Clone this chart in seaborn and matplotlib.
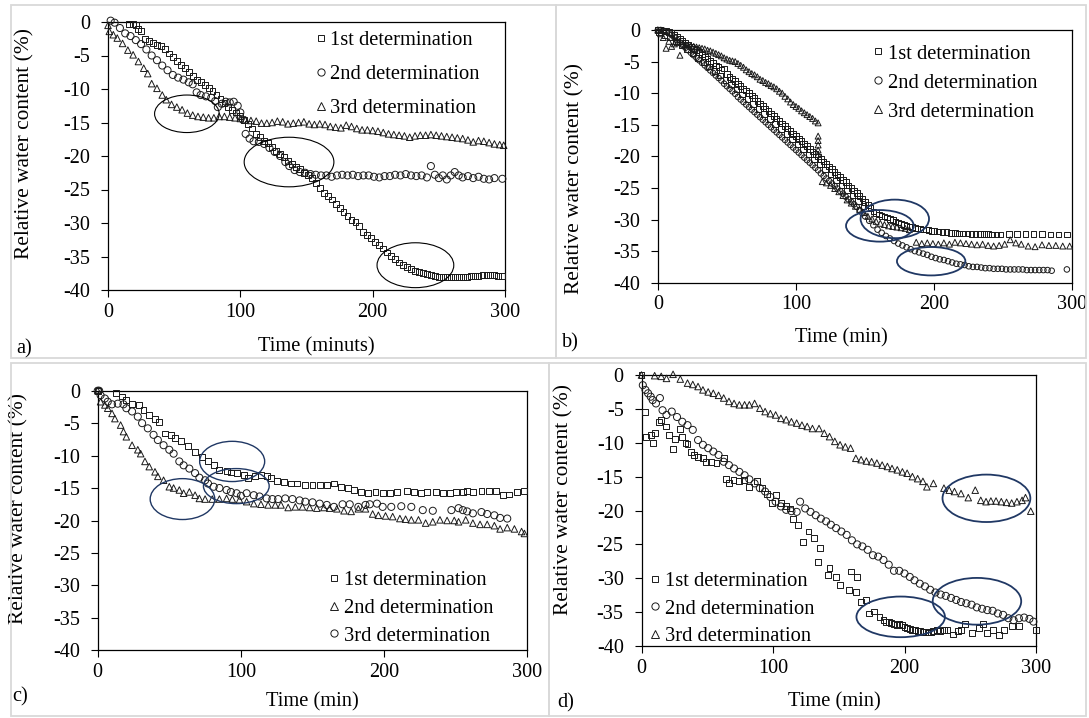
import numpy as np
import pandas as pd
import seaborn as sns
import matplotlib
matplotlib.use("Agg")
import matplotlib.pyplot as plt
from matplotlib.patches import Ellipse, Rectangle
from matplotlib.lines import Line2D

# ---------------------------------------------------------------- data
# (time in min, relative water content in %)
a_first = [(16, -0.3), (19, -0.3), (21, -0.5), (23, -1.1), (25, -1.4), (28, -2.6), (31, -2.9),
           (34, -3.2), (37, -3.4), (40, -3.6), (43, -4.0), (46, -4.7), (49, -5.2), (52, -5.8),
           (55, -6.4), (58, -6.9), (61, -7.4), (64, -8.0), (67, -8.6), (70, -9.0), (73, -9.4),
           (76, -9.8), (79, -10.3), (82, -10.9), (85, -11.5), (88, -12.1), (91, -12.7), (94, -13.1),
           (97, -13.5), (100, -14.0), (103, -14.6), (106, -15.2), (109, -15.9), (112, -16.7),
           (115, -17.2), (118, -17.7), (121, -18.1), (124, -18.6), (127, -19.2), (130, -19.7),
           (133, -20.2), (136, -20.7), (139, -21.2), (142, -21.6), (145, -22.0), (148, -22.5),
           (151, -22.9), (154, -23.3), (157, -24.0), (160, -24.8), (163, -25.5), (166, -26.0),
           (169, -26.5), (172, -27.2), (175, -27.8), (178, -28.4), (181, -29.0), (184, -29.5),
           (187, -29.9), (190, -30.5), (193, -31.4), (196, -31.8), (199, -32.2), (202, -32.9),
           (205, -33.3), (208, -33.8), (211, -34.4), (214, -34.9), (217, -35.4), (220, -35.9),
           (223, -36.3), (226, -36.6), (229, -36.9), (232, -37.1), (235, -37.3), (238, -37.5),
           (241, -37.6), (244, -37.7), (247, -37.9), (250, -38.0), (253, -38.0), (256, -38.0),
           (259, -38.0), (262, -38.0), (265, -38.1), (268, -38.1), (271, -38.0), (274, -37.9),
           (277, -37.9), (280, -37.9), (283, -37.8), (286, -37.8), (289, -37.8), (292, -37.8),
           (295, -37.9), (298, -37.9)]
a_second = [(2, 0.2), (5, -0.1), (9, -0.9), (13, -1.7), (17, -2.1), (21, -2.7), (25, -3.3),
            (29, -4.1), (33, -5.0), (37, -5.7), (41, -6.5), (45, -7.2), (49, -7.9), (53, -8.3),
            (57, -8.6), (61, -9.0), (64, -9.3), (67, -10.5), (70, -10.9), (74, -11.1), (78, -11.3),
            (81, -11.8), (83, -12.7), (86, -12.2), (89, -11.9), (92, -12.0), (95, -11.9),
            (98, -12.5), (100, -13.5), (102, -14.6), (104, -16.7), (107, -17.4), (110, -17.8),
            (114, -17.9), (118, -18.2), (122, -18.8), (126, -19.4), (130, -20.0), (134, -20.9),
            (137, -21.5), (141, -22.1), (145, -22.4), (149, -22.5), (153, -22.7), (157, -22.8),
            (161, -22.9), (165, -22.9), (169, -23.1), (173, -22.9), (177, -22.8), (181, -22.9),
            (185, -22.8), (189, -23.0), (193, -22.9), (197, -22.9), (201, -23.1), (205, -23.2),
            (209, -23.0), (213, -23.0), (217, -22.8), (221, -22.9), (225, -22.7), (229, -22.9),
            (233, -23.0), (237, -22.9), (241, -23.2), (244, -21.5), (247, -22.8), (250, -23.3),
            (253, -22.9), (256, -23.5), (259, -22.9), (262, -22.4), (265, -22.9), (268, -23.2),
            (272, -23.0), (276, -23.3), (280, -23.1), (284, -23.4), (288, -23.5), (292, -23.3),
            (298, -23.4)]
a_third = [(0, -0.5), (1, -1.4), (4, -1.9), (7, -2.4), (11, -3.2), (15, -4.2), (19, -4.9),
           (23, -5.9), (27, -6.9), (30, -7.7), (33, -9.2), (37, -9.9), (41, -10.9), (44, -11.6),
           (48, -12.3), (52, -12.7), (56, -13.1), (60, -13.6), (64, -13.9), (68, -14.1),
           (72, -14.2), (76, -14.3), (80, -14.3), (84, -14.1), (88, -14.1), (92, -14.2),
           (96, -14.3), (100, -14.4), (104, -14.6), (108, -14.7), (112, -14.8), (116, -15.1),
           (120, -15.1), (124, -15.0), (128, -14.8), (132, -14.9), (136, -15.2), (140, -15.1),
           (144, -15.0), (148, -14.9), (152, -15.2), (156, -15.3), (160, -15.2), (164, -15.3),
           (168, -15.6), (172, -15.7), (176, -15.8), (180, -15.4), (184, -15.6), (188, -15.9),
           (192, -16.1), (196, -16.1), (200, -16.2), (204, -16.3), (208, -16.5), (212, -16.7),
           (216, -16.8), (220, -16.9), (224, -17.0), (228, -17.2), (232, -17.0), (236, -16.9),
           (240, -16.9), (244, -16.8), (248, -16.9), (252, -17.0), (256, -17.1), (260, -17.2),
           (264, -17.3), (268, -17.4), (272, -17.6), (276, -17.9), (280, -17.7), (284, -17.8),
           (288, -18.0), (292, -18.2), (296, -18.3), (299, -18.4)]

# panel b: readings every 2 min over the steep part, then the plateau
b_first_grid = [0.0, 0.0, -0.1, -0.2, -0.3, -0.5, -0.8, -1.1, -1.4, -1.7,
                -2.0, -2.3, -2.6, -3.0, -3.2, -3.5, -3.9, -4.2, -4.5, -4.9,
                -5.2, -5.6, -5.9, -6.3, -6.1, -7.0, -7.4, -7.7, -8.1, -8.5,
                -8.9, -9.3, -9.6, -10.0, -10.4, -10.8, -11.2, -11.6, -12.0, -12.4,
                -12.8, -13.2, -13.6, -14.0, -14.4, -14.8, -15.2, -15.6, -16.0, -16.4,
                -16.8, -17.2, -17.6, -18.0, -18.4, -18.8, -19.2, -19.6, -20.0, -20.4,
                -20.8, -21.2, -21.6, -22.0, -22.5, -22.9, -23.3, -23.7, -24.1, -24.6,
                -25.0, -25.4, -25.8, -26.3, -26.7, -27.2, -27.7, -28.2, -28.7, -29.0,
                -29.2, -29.4, -29.5, -29.7, -29.9, -30.1, -30.3, -30.5, -30.7, -30.9,
                -31.0, -31.1, -31.2, -31.3, -31.4, -31.5, -31.6, -31.6, -31.7, -31.8,
                -31.8]
# readings in the middle of the dense band (every 4 min, from t = 1)
b_first_inner = [-0.3, -0.8, -1.2, -1.8, -2.4, -3.0, -3.7, -4.4, -5.1, -5.8,
                 -6.5, -7.2, -7.9, -8.6, -9.4, -10.2, -10.9, -11.7, -12.5, -13.3,
                 -14.1, -14.9, -15.7, -16.5, -17.3, -18.1, -18.9, -19.7, -20.5, -21.3,
                 -22.1, -22.9, -23.8, -24.6, -25.4, -26.2, -27.1, -27.9]
b_first_tail = [(203, -31.9), (206, -32.0), (209, -32.0), (212, -32.1), (215, -32.1),
                (218, -32.2), (221, -32.2), (224, -32.2), (227, -32.3), (230, -32.3),
                (233, -32.3), (236, -32.3), (239, -32.3), (242, -32.4), (245, -32.4),
                (248, -32.4), (254, -32.3), (260, -32.3), (266, -32.3), (272, -32.3),
                (278, -32.3), (284, -32.4), (290, -32.4), (296, -32.4)]
b_second_grid = [0.0, 0.0, -0.1, -0.3, -0.5, -0.8, -1.2, -1.6, -2.0, -2.4,
                 -2.8, -3.2, -3.6, -4.0, -4.4, -4.8, -5.2, -5.6, -6.0, -6.4,
                 -6.8, -7.2, -7.6, -8.0, -8.5, -8.9, -9.3, -9.7, -10.1, -10.6,
                 -11.0, -11.4, -11.8, -12.2, -12.6, -13.0, -13.4, -13.8, -14.2, -14.6,
                 -15.0, -15.4, -15.8, -16.2, -16.6, -17.0, -17.4, -17.8, -18.2, -18.6,
                 -19.0, -19.4, -19.8, -20.2, -20.6, -21.0, -21.4, -21.8, -22.2, -22.7,
                 -23.1, -23.5, -23.9, -24.3, -24.7, -25.1, -25.5, -25.9, -26.4, -26.8,
                 -27.2, -27.6, -28.0, -28.5, -29.0]
b_second_tail = [-29.5, -30.2, -30.9, -31.6, -32.1, -32.6, -33.0, -33.4, -33.8, -34.1,
                 -34.4, -34.7, -35.0, -35.2, -35.4, -35.6, -35.9, -36.1, -36.3, -36.4,
                 -36.6, -36.8, -37.0, -37.1, -37.2, -37.4, -37.5, -37.5, -37.6, -37.7,
                 -37.7, -37.8, -37.8, -37.8, -37.9, -37.9, -37.9, -37.9, -37.9, -38.0,
                 -38.0, -38.0, -38.0, -38.0, -38.0, -38.1]
b_second_last = [(296, -37.9)]
b_third_grid = [0.0, -0.6, -1.2, -2.9, -1.8, -2.6, -2.2, -2.0, -4.0, -2.1,
                -2.3, -2.4, -2.5, -2.6, -2.7, -2.8, -2.9, -3.0, -3.2, -3.3,
                -3.5, -3.7, -3.9, -4.1, -4.4, -4.6, -4.8, -4.9, -5.0, -5.3,
                -5.6, -5.9, -6.3, -6.6, -6.9, -7.1, -7.4, -7.8, -8.0, -8.3,
                -8.5, -8.8, -9.0, -9.3, -9.7, -10.0, -10.5, -10.9, -11.4, -11.8,
                -12.1, -12.4, -12.8, -13.1, -13.4, -13.7, -14.0, -14.4, -14.7]
b_third_tail = [(116, -16.8), (116, -17.5), (116, -18.2), (116, -19.0), (116, -19.7),
                (119, -24.0), (122, -24.2), (125, -24.6), (128, -25.1), (131, -25.6),
                (134, -26.2), (137, -26.9), (140, -27.4), (143, -27.9), (146, -28.4),
                (149, -28.9), (152, -29.5), (155, -29.9), (158, -30.3), (161, -30.6),
                (164, -30.8), (167, -31.0), (170, -31.1), (173, -31.2), (176, -31.3),
                (179, -31.4), (182, -31.6), (187, -33.6), (191, -33.8), (195, -33.7),
                (199, -33.8), (203, -33.9), (207, -33.7), (211, -33.9), (215, -33.6),
                (219, -33.7), (223, -33.8), (227, -33.9), (231, -34.0), (235, -33.9),
                (239, -34.1), (243, -34.2), (247, -34.1), (251, -33.9), (255, -33.2),
                (259, -33.7), (263, -33.9), (268, -34.2), (273, -34.3), (278, -34.0),
                (283, -34.1), (288, -34.1), (293, -34.2), (298, -34.2)]

c_first = [(0, 0.0), (13, -0.3), (17, -0.9), (20, -1.4), (24, -2.0), (29, -2.2), (32, -3.0),
           (36, -3.7), (40, -4.3), (43, -4.8), (47, -6.6), (51, -6.8), (54, -7.3), (58, -7.8),
           (63, -8.5), (68, -9.4), (73, -10.2), (77, -10.9), (81, -11.5), (85, -12.2),
           (90, -12.4), (93, -12.6), (97, -12.7), (102, -13.0), (105, -13.5), (110, -13.2),
           (114, -13.0), (118, -13.2), (121, -13.4), (125, -13.9), (130, -14.0), (135, -14.3),
           (139, -14.3), (145, -14.5), (150, -14.5), (155, -14.5), (160, -14.5), (165, -14.3),
           (170, -14.9), (175, -15.0), (179, -15.3), (184, -15.6), (189, -15.7), (194, -15.6),
           (199, -15.7), (204, -15.7), (209, -15.6), (216, -15.5), (221, -15.6), (226, -15.7),
           (230, -15.6), (236, -15.6), (241, -15.7), (246, -15.8), (250, -15.6), (255, -15.6),
           (258, -15.5), (262, -15.6), (268, -15.5), (273, -15.5), (278, -15.5), (283, -16.1),
           (287, -16.0), (293, -15.6), (298, -15.5)]
c_second = [(0, 0.0), (2, -1.7), (5, -2.2), (7, -2.7), (10, -3.5), (12, -4.3), (16, -5.3),
            (18, -6.3), (20, -7.1), (24, -8.4), (28, -9.1), (30, -9.7), (33, -10.9), (36, -11.7),
            (40, -12.5), (42, -13.2), (46, -13.8), (50, -14.8), (53, -15.0), (57, -15.3),
            (60, -15.8), (64, -15.6), (68, -16.1), (71, -16.6), (75, -16.7), (80, -16.7),
            (85, -16.7), (90, -16.6), (94, -16.7), (99, -16.8), (104, -17.1), (109, -17.4),
            (114, -17.5), (119, -17.6), (124, -17.6), (128, -17.6), (133, -18.0), (138, -17.9),
            (143, -17.9), (148, -18.0), (153, -18.1), (158, -18.0), (162, -18.1), (167, -18.2),
            (172, -18.5), (177, -18.6), (182, -18.2), (187, -18.2), (192, -19.0), (196, -19.2),
            (201, -19.3), (206, -19.4), (211, -19.7), (215, -19.8), (219, -19.9), (224, -19.9),
            (229, -20.4), (234, -20.2), (239, -19.9), (244, -20.0), (249, -20.0), (252, -20.2),
            (257, -19.9), (262, -20.4), (267, -20.6), (272, -20.6), (277, -20.8), (281, -21.3),
            (286, -21.1), (291, -21.3), (296, -21.7), (298, -22.0)]
c_third = [(0, 0.0), (1, 0.0), (2, -0.7), (5, -1.2), (7, -1.7), (10, -2.1), (14, -2.0),
           (18, -2.1), (20, -2.7), (24, -3.2), (28, -4.0), (31, -5.0), (35, -5.8), (39, -6.8),
           (42, -7.6), (46, -8.4), (50, -9.1), (53, -9.7), (57, -10.9), (60, -11.5), (64, -12.0),
           (68, -12.7), (71, -13.4), (75, -13.8), (77, -14.3), (81, -14.8), (85, -15.0),
           (90, -15.3), (93, -15.6), (97, -15.8), (100, -16.2), (104, -15.8), (109, -16.1),
           (113, -16.3), (118, -16.6), (122, -16.7), (126, -16.7), (131, -16.6), (136, -16.7),
           (141, -16.9), (145, -17.1), (150, -17.2), (155, -17.4), (160, -17.6), (165, -17.9),
           (171, -17.5), (176, -17.5), (182, -17.9), (187, -17.6), (190, -17.5), (195, -17.4),
           (199, -17.9), (205, -17.9), (212, -17.8), (219, -17.9), (227, -18.4), (234, -18.5),
           (247, -18.4), (252, -18.1), (255, -18.4), (258, -18.6), (262, -18.9), (268, -18.7),
           (272, -19.0), (277, -19.2), (281, -19.6), (286, -19.7)]

d_first = [(0, 0.0), (2.6, -5.4), (3.7, -9.1), (7, -8.8), (9, -10.1), (10.5, -8.6), (13, -6.9),
           (15, -6.6), (18.5, -7.6), (21, -8.9), (23.7, -10.9), (25.6, -9.4), (29.5, -8.0),
           (31, -9.1), (33.5, -10.1), (35, -10.2), (37.5, -11.3), (40, -11.8), (42.7, -12.1),
           (46.7, -12.2), (49, -12.8), (53, -12.8), (57, -13.0), (62.5, -12.3), (64, -15.3),
           (66.5, -16.0), (70, -15.5), (74, -15.7), (78, -15.5), (82, -16.5), (87.6, -15.7),
           (91.5, -16.7), (95.5, -17.5), (99.5, -18.9), (102, -17.7), (106, -18.9), (110, -19.4),
           (112.6, -19.7), (115.3, -21.2), (119, -22.1), (123, -24.6), (127, -23.1), (131, -24.0),
           (134, -27.6), (136, -25.6), (141.7, -29.5), (143, -28.5), (148, -29.8), (151, -31.0),
           (157.5, -31.7), (159, -29.0), (162.8, -32.0), (163.6, -29.8), (167, -33.5),
           (170.7, -33.2), (173, -35.2), (177, -34.9), (181, -35.7), (184, -36.2), (186, -36.5),
           (188, -36.4), (190, -36.6), (192, -36.7), (194, -36.9), (196, -36.8), (198, -36.9),
           (200, -37.2), (202, -37.4), (204, -37.5), (206, -37.6), (208, -37.7), (210, -37.8),
           (212, -37.8), (214, -37.9), (216, -37.9), (218, -38.0), (220, -37.9), (222, -37.8),
           (225, -37.7), (227, -37.8), (230, -37.6), (232.7, -37.6), (236.7, -38.3),
           (240.6, -37.8), (243, -37.6), (246, -36.7), (251, -38.1), (256.5, -37.4), (260, -36.8),
           (263, -38.1), (267, -37.6), (272, -38.4), (276, -37.6), (281.5, -37.1), (287, -37.0),
           (300, -37.6)]
d_second = [(1, -1.5), (3, -2.2), (5, -2.7), (7, -3.2), (8.5, -3.7), (11, -4.2), (14, -3.4),
            (16, -5.2), (19, -5.9), (23, -5.4), (27, -6.2), (31, -6.9), (35, -7.4), (39, -8.1),
            (43, -9.6), (46.7, -10.3), (50.7, -10.8), (54.6, -11.3), (58.6, -11.8), (62.5, -12.8),
            (66.5, -13.3), (70.4, -13.8), (74.4, -14.3), (78.4, -14.8), (82, -15.4), (86, -16.0),
            (90, -16.7), (94, -17.2), (98, -18.0), (102, -18.7), (106, -19.4), (110, -19.9),
            (114, -20.1), (118, -20.2), (120.6, -18.7), (124.5, -19.7), (128.5, -20.2),
            (132.5, -20.7), (136.4, -21.2), (140.4, -21.6), (144, -22.1), (148, -22.6),
            (152, -23.1), (156, -23.6), (160, -24.4), (164, -25.0), (168, -25.3), (172, -25.8),
            (176, -26.6), (180, -26.8), (184, -27.3), (188, -28.0), (192, -28.9), (196, -28.9),
            (200, -29.3), (204, -29.8), (207.6, -30.3), (211.6, -30.8), (215.6, -31.2),
            (219.5, -31.7), (223.5, -32.1), (227.5, -32.4), (231.4, -32.6), (235.4, -32.9),
            (239.3, -33.2), (243, -33.5), (247, -33.7), (251, -33.9), (255, -34.3), (259, -34.5),
            (263, -34.7), (267, -34.8), (271, -35.2), (275, -35.4), (279, -35.9), (283, -36.2),
            (287, -35.9), (291, -35.8), (295, -36.0), (298, -36.4)]
d_third = [(0, 0.0), (10, -0.1), (15, -0.2), (19, -0.5), (24, 0.1), (29.5, -0.6), (35, -1.2),
           (39, -1.4), (43, -1.7), (46.7, -2.2), (50.7, -2.5), (54.6, -2.7), (58.6, -3.0),
           (62.5, -3.4), (66.5, -3.9), (70.4, -4.2), (74.4, -4.4), (78.4, -4.4), (82, -4.4),
           (86, -4.2), (90, -4.9), (94, -5.4), (98, -5.7), (102, -5.9), (106, -6.4), (110, -6.6),
           (114, -6.9), (118, -7.1), (122, -7.4), (126, -7.6), (130, -7.9), (135, -7.9),
           (139, -8.6), (143, -9.1), (147, -9.8), (151, -10.3), (155, -10.6), (159, -10.8),
           (163, -12.3), (167, -12.5), (171, -12.7), (175, -12.8), (179, -13.0), (183, -13.3),
           (187, -13.5), (190.5, -13.8), (194.5, -14.0), (198.4, -14.3), (202, -14.5),
           (206, -15.0), (210, -15.3), (214, -15.7), (217, -16.5), (222, -16.0), (230, -16.7),
           (234, -17.0), (238, -17.2), (243, -17.5), (248.5, -18.1), (253.8, -17.0),
           (258, -18.5), (262, -18.7), (265.7, -18.6), (269.6, -18.6), (273.6, -18.7),
           (277.6, -18.8), (281.5, -18.9), (285.5, -18.7), (289.4, -18.5), (292, -18.1),
           (296, -20.1)]

legend_labels = ["1st determination", "2nd determination", "3rd determination"]
y_ticks = [0, -5, -10, -15, -20, -25, -30, -35, -40]
x_ticks = [0, 100, 200, 300]

# highlighted regions: (centre time, centre value, width in min, height in %)
a_rings = [(59.6, -13.7, 48.8, 5.6), (136.8, -20.9, 67.8, 7.4), (232.3, -36.3, 58.0, 6.7)]
b_rings = [(171.5, -29.9, 49.5, 6.1), (160.7, -31.0, 49.0, 5.0), (197.8, -36.6, 49.5, 4.5)]
c_rings = [(93.9, -10.9, 45.4, 6.2), (96.8, -14.7, 45.9, 5.4), (59.2, -16.7, 45.1, 6.3)]
d_rings = [(262.3, -18.2, 66.8, 7.0), (255.1, -33.4, 67.3, 6.9), (197.1, -35.7, 67.3, 6.0)]


def grid_points(values, start, step):
    return [(start + step * i, v) for i, v in enumerate(values)]


b_first = grid_points(b_first_grid, 0, 2) + grid_points(b_first_inner, 1, 4) + b_first_tail
b_second = grid_points(b_second_grid, 0, 2) + grid_points(b_second_tail, 150, 3) + b_second_last
b_third = grid_points(b_third_grid, 0, 2) + b_third_tail

# ---------------------------------------------------------------- style
sns.set_theme(style="white")
plt.rcParams["font.family"] = ["Liberation Serif", "DejaVu Serif"]
plt.rcParams["axes.unicode_minus"] = False
plt.rcParams["text.color"] = "black"

W, H = 1089, 718
FS_TICK = 14.6
FS_LEG = 14.8
FS_XL = 14.8
FS_YL = 15.4
INK = "#1a1a1a"
NAVY = "#203864"

fig = plt.figure(figsize=(W / 100, H / 100), dpi=100)
fig.patch.set_facecolor("white")


def fx(px):
    return px / W


def fy(py):
    return 1 - py / H


# light frames around each sub-figure
for (l, t, r, b) in [(11, 5, 556, 358), (556, 5, 1086, 358), (11, 363, 549, 716), (549, 363, 1086, 716)]:
    fig.add_artist(Rectangle((fx(l), fy(b)), fx(r) - fx(l), fy(t) - fy(b), transform=fig.transFigure,
                             fill=False, ec="#d9d9d9", lw=1.3))

MARK = {"sq": "s", "ci": "o", "tr": "^"}


def draw_series(ax, pts, kind, size):
    df = pd.DataFrame(pts, columns=["time", "rwc"])
    sns.scatterplot(data=df, x="time", y="rwc", marker=MARK[kind], s=size, color=INK,
                    facecolor="none", edgecolor=INK, linewidth=0.7, ax=ax,
                    clip_on=False, legend=False, zorder=3)


def make_panel(box, series, rings, ring_color, ring_lw, xlabel, ylab_pos, xlab_pos,
               leg_order, leg_xy, leg_spacing, tag, tag_xy):
    l, t, r, b = box
    ax = fig.add_axes([fx(l), fy(b), fx(r) - fx(l), fy(t) - fy(b)])
    for pts, kind, size in series:
        draw_series(ax, pts, kind, size)
    for cx, cy, w, h in rings:
        ax.add_patch(Ellipse((cx, cy), w, h, fill=False, ec=ring_color, lw=ring_lw, zorder=4))
    ax.set_xlim(0, 300)
    ax.set_ylim(-40, 0)
    ax.set_xticks(x_ticks)
    ax.set_yticks(y_ticks)
    ax.set_xticklabels([str(v) for v in x_ticks])
    ax.set_yticklabels([str(v) for v in y_ticks])
    ax.tick_params(bottom=True, left=True, direction="out", length=4.8, width=0.8,
                   colors="black", labelsize=FS_TICK)
    ax.tick_params(axis="x", pad=4.3)
    ax.tick_params(axis="y", pad=8)
    for sp in ax.spines.values():
        sp.set_color("black")
        sp.set_linewidth(0.9)
        sp.set_visible(True)
    ax.set_xlabel(xlabel, fontsize=FS_XL, color="black", va="center", ha="center")
    ax.set_ylabel("Relative water content (%)", fontsize=FS_YL, color="black", va="center", ha="center")
    ax.xaxis.set_label_coords(*xlab_pos)
    ax.yaxis.set_label_coords(*ylab_pos)
    handles = [Line2D([], [], ls="none", marker=MARK[k], mfc="none", mec=INK, mew=0.7,
                      ms=4.6 if k == "sq" else 5.2) for k in leg_order]
    ax.legend(handles, legend_labels, loc="upper left", bbox_to_anchor=(fx(leg_xy[0]), fy(leg_xy[1])),
              bbox_transform=fig.transFigure, frameon=False, borderpad=0, borderaxespad=0,
              handlelength=0.6, handletextpad=0.17, labelspacing=leg_spacing, fontsize=FS_LEG)
    fig.text(fx(tag_xy[0]), fy(tag_xy[1]), tag, fontsize=FS_TICK, ha="left", va="center")
    return ax


make_panel((108, 22, 505, 290),
           [(a_first, "sq", 18), (a_second, "ci", 26), (a_third, "tr", 22)],
           a_rings, "black", 0.8, "Time (minuts)", (-0.209, 0.545), (0.524, -0.212),
           ["sq", "ci", "tr"], (314.4, 30.8), 0.70, "a)", (16, 349))

make_panel((657.8, 30, 1072.4, 282.7),
           [(b_first, "sq", 16), (b_second, "ci", 16), (b_third, "tr", 18)],
           b_rings, NAVY, 1.3, "Time (min)", (-0.201, 0.414), (0.442, -0.219),
           ["sq", "ci", "tr"], (871.9, 44.2), 0.47, "b)", (562, 343))

make_panel((97.7, 390.7, 527.3, 650.3),
           [(c_first, "sq", 18), (c_second, "tr", 22), (c_third, "ci", 26)],
           c_rings, NAVY, 1.0, "Time (min)", (-0.183, 0.548), (0.499, -0.198),
           ["sq", "tr", "ci"], (328.3, 570.5), 0.41, "c)", (12, 697))

make_panel((641.5, 375, 1036, 646),
           [(d_first, "sq", 18), (d_second, "ci", 26), (d_third, "tr", 22)],
           d_rings, NAVY, 1.3, "Time (min)", (-0.196, 0.542), (0.488, -0.206),
           ["sq", "ci", "tr"], (649.2, 571.5), 0.40, "d)", (557, 703))

fig.savefig("out.png", dpi=100, facecolor="white")
